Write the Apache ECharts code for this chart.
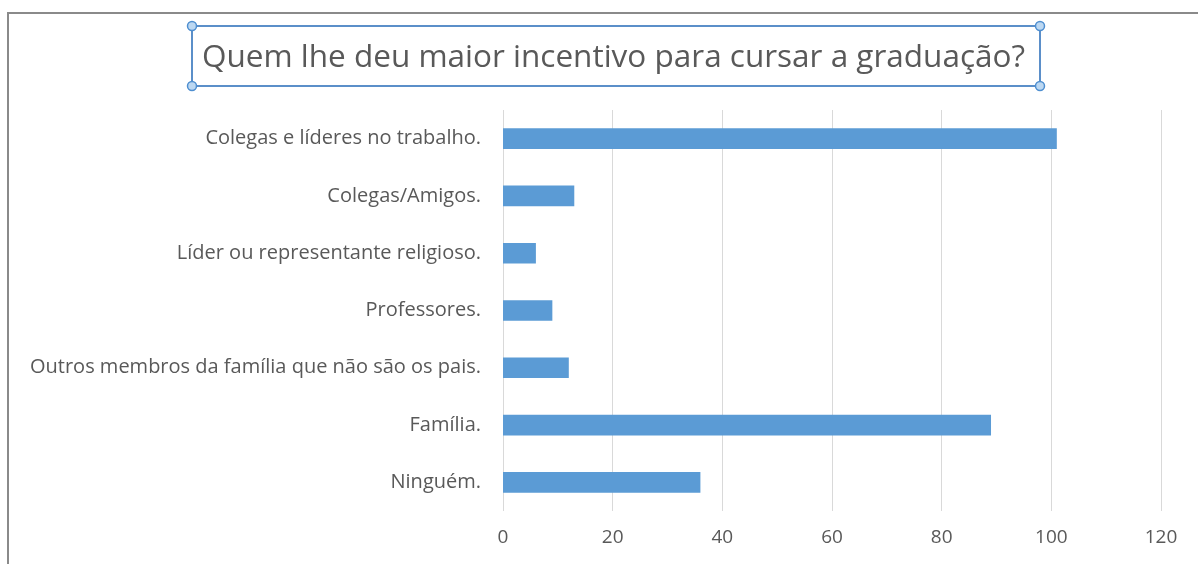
<!DOCTYPE html>
<html>
<head>
<meta charset="utf-8">
<script src="https://cdn.jsdelivr.net/npm/echarts@6/dist/echarts.min.js"></script>
<style>
  html, body { margin: 0; padding: 0; background: #fff; }
  #chart { width: 1198px; height: 564px; }
</style>
</head>
<body>
<div id="chart"></div>
<script>
// 类别与数值
const categories = [
    'Colegas e líderes no trabalho.',
    'Colegas/Amigos.',
    'Líder ou representante religioso.',
    'Professores.',
    'Outros membros da família que não são os pais.',
    'Família.',
    'Ninguém.'
];
const values = [101, 13, 6, 9, 12, 89, 36];
const titleText = 'Quem lhe deu maior incentivo para cursar a graduação?';

const font = '"Open Sans", "Noto Sans", sans-serif';
const textColor = '#595959';

// 标题框
const box = { x: 192, y: 26, w: 848, h: 60 };
const handles = [
    [box.x, box.y], [box.x + box.w, box.y],
    [box.x, box.y + box.h], [box.x + box.w, box.y + box.h]
];

const chart = echarts.init(document.getElementById('chart'));
chart.setOption({
    animation: false,
    title: {
        text: titleText,
        left: 197,
        top: 37,
        textStyle: {
            color: textColor,
            fontFamily: font,
            fontWeight: 'normal',
            fontSize: 31.5,
        },
    },
    grid: {
        left: 503,
        right: 37,
        top: 110,
        bottom: 53,
    },
    xAxis: {
        type: 'value',
        min: 0,
        max: 120,
        interval: 20,
        axisLine: { show: false },
        axisTick: { show: false },
        axisLabel: {
            color: textColor,
            fontFamily: font,
            fontSize: 19,
            margin: 17,
        },
        splitLine: {
            lineStyle: { color: '#d9d9d9', width: 1 },
        },
    },
    yAxis: {
        type: 'category',
        data: categories,
        inverse: true,
        axisLine: { show: false },
        axisTick: { show: false },
        axisLabel: {
            color: textColor,
            fontFamily: font,
            fontSize: 20,
            margin: 22,
        },
    },
    series: [
        {
            type: 'bar',
            data: values,
            barWidth: '36%',
            itemStyle: { color: '#5b9bd5' },
        },
    ],
    graphic: [
        {
            type: 'rect',
            shape: { x: 8, y: 13, width: 1220, height: 600 },
            style: { fill: 'none', stroke: '#8a8a8a', lineWidth: 2 },
            silent: true,
        },
        {
            type: 'rect',
            shape: { x: box.x, y: box.y, width: box.w, height: box.h },
            style: { fill: 'none', stroke: '#5b8fc9', lineWidth: 2 },
            silent: true,
        },
        ...handles.map(([cx, cy]) => ({
            type: 'circle',
            shape: { cx, cy, r: 4.5 },
            style: { fill: '#bcd8f2', stroke: '#4f8fd0', lineWidth: 1.5 },
            silent: true,
        })),
    ],
});
</script>
</body>
</html>
